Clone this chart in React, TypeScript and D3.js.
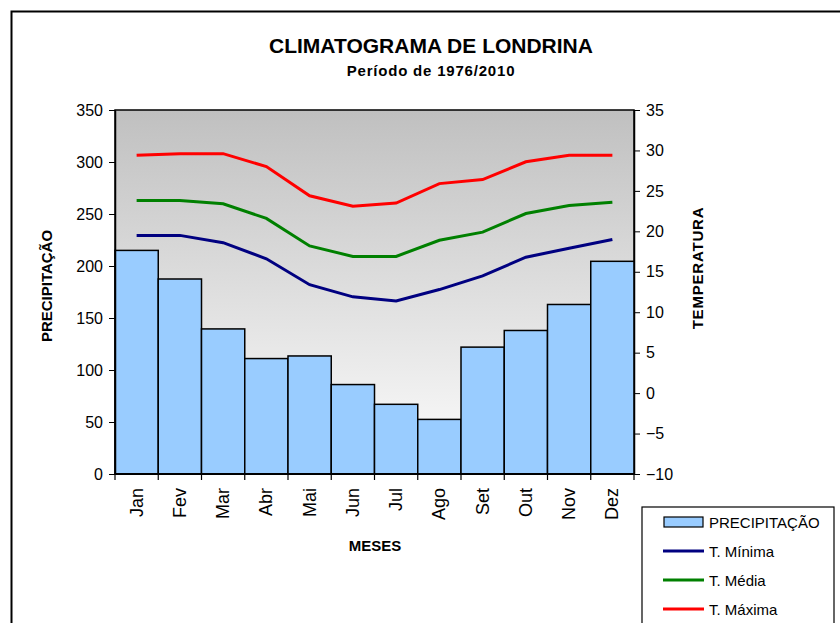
import { useRef, useEffect } from "react";
import * as d3 from "d3";

const months = ["Jan", "Fev", "Mar", "Abr", "Mai", "Jun", "Jul", "Ago", "Set", "Out", "Nov", "Dez"];
const precipitacao = [215, 187.5, 139.5, 111, 113.5, 86, 67, 52.5, 122, 138, 163, 204.5];
const tMinima = [19.5, 19.5, 18.6, 16.6, 13.4, 11.9, 11.4, 12.8, 14.5, 16.8, 17.9, 19.0];
const tMedia = [23.8, 23.8, 23.4, 21.6, 18.2, 16.9, 16.9, 18.9, 19.9, 22.2, 23.2, 23.6];
const tMaxima = [29.4, 29.6, 29.6, 28.0, 24.4, 23.1, 23.5, 25.9, 26.4, 28.6, 29.4, 29.4];
const leftTicks = [0, 50, 100, 150, 200, 250, 300, 350];
const rightTicks = [-10, -5, 0, 5, 10, 15, 20, 25, 30, 35];

const series = [
  { name: "T. Mínima", values: tMinima, color: "#000080" },
  { name: "T. Média", values: tMedia, color: "#008000" },
  { name: "T. Máxima", values: tMaxima, color: "#ff0000" },
];

const App = () => {
  const svgRef = useRef<SVGSVGElement>(null);

  useEffect(() => {
    const svg = d3.select(svgRef.current);
    svg.selectAll("*").remove();

    const width = 840;
    const height = 623;
    const margin = { top: 110, right: 206, bottom: 149, left: 115 };
    const font = "'Liberation Sans', Arial, sans-serif";

    svg.attr("font-family", font);

    // outer frame
    svg
      .append("path")
      .attr("d", `M11.5,${height} V11.5 H${width}`)
      .attr("fill", "none")
      .attr("stroke", "#000")
      .attr("stroke-width", 2);

    const x = d3
      .scaleBand()
      .domain(months)
      .range([margin.left, width - margin.right])
      .padding(0);

    const yL = d3.scaleLinear().domain([0, 350]).range([height - margin.bottom, margin.top]);
    const yR = d3.scaleLinear().domain([-10, 35]).range([height - margin.bottom, margin.top]);

    const defs = svg.append("defs");
    const grad = defs
      .append("linearGradient")
      .attr("id", "bg")
      .attr("x1", 0)
      .attr("y1", 0)
      .attr("x2", 0)
      .attr("y2", 1);
    grad.append("stop").attr("offset", "0%").attr("stop-color", "#c0c0c0");
    grad.append("stop").attr("offset", "100%").attr("stop-color", "#fdfdfd");

    svg
      .append("rect")
      .attr("x", margin.left)
      .attr("y", margin.top)
      .attr("width", width - margin.left - margin.right)
      .attr("height", height - margin.top - margin.bottom)
      .attr("fill", "url(#bg)")
      .attr("stroke", "#000")
      .attr("stroke-width", 1.5);

    // bars
    svg
      .append("g")
      .selectAll("rect")
      .data(precipitacao)
      .join("rect")
      .attr("x", (_, i) => x(months[i])!)
      .attr("y", (d) => yL(d))
      .attr("width", x.bandwidth())
      .attr("height", (d) => yL(0) - yL(d))
      .attr("fill", "#99ccff")
      .attr("stroke", "#000")
      .attr("stroke-width", 1.5);

    // lines
    const line = d3
      .line<number>()
      .x((_, i) => x(months[i])! + x.bandwidth() / 2)
      .y((d) => yR(d));

    series.forEach((s) => {
      svg
        .append("path")
        .datum(s.values)
        .attr("fill", "none")
        .attr("stroke", s.color)
        .attr("stroke-width", 3)
        .attr("d", line);
    });

    // axes
    const axL = svg
      .append("g")
      .attr("transform", `translate(${margin.left},0)`)
      .call(d3.axisLeft(yL).tickValues(leftTicks).tickSize(6).tickSizeOuter(0).tickPadding(6));
    const axR = svg
      .append("g")
      .attr("transform", `translate(${width - margin.right},0)`)
      .call(d3.axisRight(yR).tickValues(rightTicks).tickSize(6).tickSizeOuter(0).tickPadding(6));
    [axL, axR].forEach((ax) => {
      ax.select(".domain").attr("stroke", "#000").attr("stroke-width", 1.5);
      ax.selectAll("text").attr("font-size", 16).attr("font-family", font).attr("fill", "#000");
    });

    const axB = svg.append("g").attr("transform", `translate(0,${height - margin.bottom})`);
    axB
      .append("line")
      .attr("x1", margin.left)
      .attr("x2", width - margin.right)
      .attr("stroke", "#000")
      .attr("stroke-width", 2);
    axB
      .selectAll("line.tick")
      .data([...months, "end"])
      .join("line")
      .attr("class", "tick")
      .attr("x1", (d, i) => (i < months.length ? x(d)! : width - margin.right))
      .attr("x2", (d, i) => (i < months.length ? x(d)! : width - margin.right))
      .attr("y1", 0)
      .attr("y2", 6)
      .attr("stroke", "#000")
      .attr("stroke-width", 1.2);
    axB
      .selectAll("text")
      .data(months)
      .join("text")
      .attr("transform", (d) => `translate(${x(d)! + x.bandwidth() / 2 + 6},14) rotate(-90)`)
      .attr("text-anchor", "end")
      .attr("font-size", 18)
      .attr("fill", "#000")
      .text((d) => d);

    // titles
    svg
      .append("text")
      .attr("x", 431)
      .attr("y", 53)
      .attr("text-anchor", "middle")
      .attr("font-size", 21)
      .attr("font-weight", "bold")
      .text("CLIMATOGRAMA DE LONDRINA");
    svg
      .append("text")
      .attr("x", 431)
      .attr("y", 76)
      .attr("text-anchor", "middle")
      .attr("font-size", 15)
      .attr("letter-spacing", 0.8)
      .attr("font-weight", "bold")
      .text("Período de 1976/2010");

    svg
      .append("text")
      .attr("transform", `translate(52,286) rotate(-90)`)
      .attr("text-anchor", "middle")
      .attr("font-size", 15)
      .attr("font-weight", "bold")
      .text("PRECIPITAÇÃO");
    svg
      .append("text")
      .attr("transform", `translate(703,268) rotate(-90)`)
      .attr("text-anchor", "middle")
      .attr("font-size", 15)
      .attr("letter-spacing", 0.8)
      .attr("font-weight", "bold")
      .text("TEMPERATURA");
    svg
      .append("text")
      .attr("x", 375)
      .attr("y", 551)
      .attr("text-anchor", "middle")
      .attr("font-size", 15)
      .attr("font-weight", "bold")
      .text("MESES");

    // legend
    const lg = svg.append("g");
    lg.append("rect")
      .attr("x", 642)
      .attr("y", 507)
      .attr("width", 192)
      .attr("height", 130)
      .attr("fill", "#fff")
      .attr("stroke", "#000")
      .attr("stroke-width", 1.2);
    const rowY = (i: number) => 522 + i * 29;
    lg.append("rect")
      .attr("x", 664)
      .attr("y", rowY(0) - 5)
      .attr("width", 39)
      .attr("height", 10)
      .attr("fill", "#99ccff")
      .attr("stroke", "#000")
      .attr("stroke-width", 1.2);
    lg.append("text")
      .attr("x", 709)
      .attr("y", rowY(0) + 6)
      .attr("font-size", 15)
      .text("PRECIPITAÇÃO");
    series.forEach((s, i) => {
      lg.append("line")
        .attr("x1", 663)
        .attr("x2", 704)
        .attr("y1", rowY(i + 1))
        .attr("y2", rowY(i + 1))
        .attr("stroke", s.color)
        .attr("stroke-width", 3);
      lg.append("text")
        .attr("x", 709)
        .attr("y", rowY(i + 1) + 6)
        .attr("font-size", 15)
        .text(s.name);
    });
  }, []);

  return <svg ref={svgRef} width={840} height={623} style={{ position: "absolute", left: 0, top: 0, background: "#fff" }} />;
};

export default App;
